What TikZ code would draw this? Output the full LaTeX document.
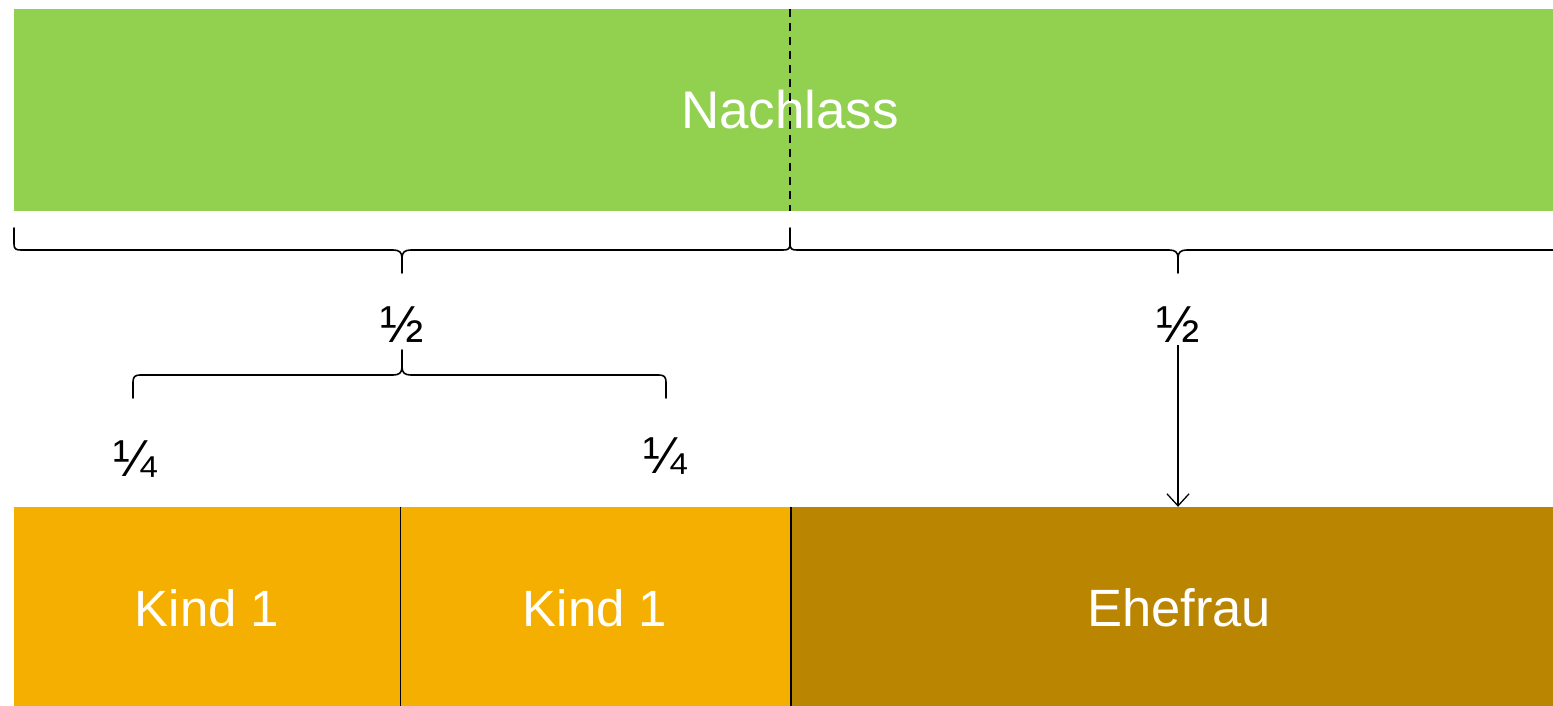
\documentclass[tikz,border=0pt]{standalone}
\usepackage{fontspec}
\setmainfont{Liberation Sans}
\usetikzlibrary{arrows.meta}
\definecolor{nachlassgreen}{HTML}{92D050}
\definecolor{kindorange}{HTML}{F5AF00}
\definecolor{ehebrown}{HTML}{BA8500}

\begin{document}
\begin{tikzpicture}[x=1pt,y=-1pt,
		bar/.style={draw=none,inner sep=0pt,text=white,font=\fontsize{51}{58}\selectfont},
		frac/.style={inner sep=0pt,anchor=base,font=\fontsize{52}{58}\selectfont},
		brace/.style={line width=1.6pt,line join=round,line cap=round}]
	\useasboundingbox (0,0) rectangle (1553,706);
	\clip (0,0) rectangle (1553,706);

	% Nachlass bar with the half-way mark
	\node[bar,fill=nachlassgreen,minimum width=1552,minimum height=202,font=\fontsize{53}{60}\selectfont] (nachlass) at (790,110) {Nachlass};
	\draw[line width=1.5pt,dash pattern=on 8pt off 6pt] (nachlass.north) -- (nachlass.south);

	% heirs
	\node[bar,fill=kindorange,minimum width=386,minimum height=202] (kindA) at (207,608) {Kind 1};
	\node[bar,fill=kindorange,minimum width=390,minimum height=202] (kindB) at (595,608) {Kind 1};
	\node[bar,fill=ehebrown,minimum width=774,minimum height=202,font=\fontsize{52.5}{58}\selectfont] (ehe) at (1179,608) {Ehefrau};
	\draw[line width=1.3pt] (kindA.north east) -- (kindA.south east);
	\draw[line width=2.4pt] ([xshift=1pt]kindB.north east) -- ([xshift=1pt]kindB.south east);

	% big braces under the bar
	\draw[brace] (14,228) -- (14,244) .. controls (14,249) and (16,250) .. (21,250) -- (393,250) .. controls (399,250) and (402,252) .. (402,258) -- (402,273);
	\draw[brace] (402,258) .. controls (402,252) and (405,250) .. (411,250) -- (783,250) .. controls (788,250) and (790,249) .. (790,244) -- (790,228);
	\draw[brace] (790,244) .. controls (790,249) and (792,250) .. (797,250) -- (1169,250) .. controls (1175,250) and (1178,252) .. (1178,258) -- (1178,273);
	\draw[brace] (1178,258) .. controls (1178,252) and (1181,250) .. (1187,250) -- (1559,250) .. controls (1564,250) and (1566,249) .. (1566,244) -- (1566,228);

	\node[frac] (halfL) at (402,342) {½};
	\node[frac] (halfR) at (1178,342) {½};

	% small brace for the two children
	\draw[brace] (133,398) -- (133,382) .. controls (133,377) and (135,375) .. (140,375) -- (393,375) .. controls (399,375) and (402,373) .. (402,367) -- (402,350);
	\draw[brace] (402,367) .. controls (402,373) and (405,375) .. (411,375) -- (659,375) .. controls (664,375) and (666,377) .. (666,382) -- (666,398);

	\node[frac] (quarterA) at (135,476) {¼};
	\node[frac] (quarterB) at (665,473) {¼};

	\draw[line width=1.3pt,-{Straight Barb[length=12pt,width=22pt]},shorten <=3pt] (halfR.south) -- (halfR.south |- ehe.north);
\end{tikzpicture}
\end{document}
